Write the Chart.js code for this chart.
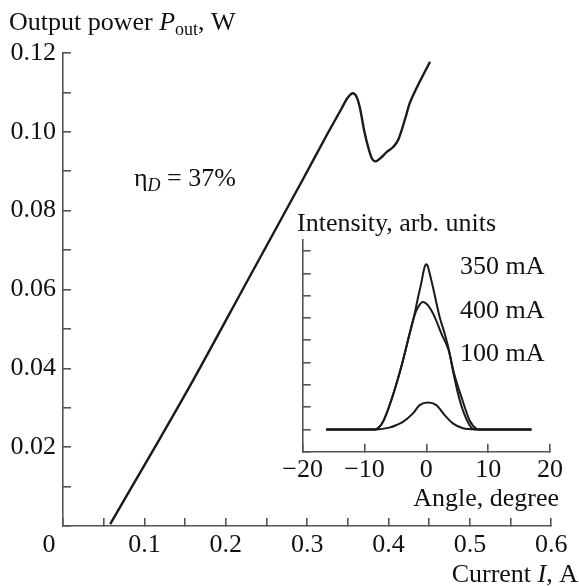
<!DOCTYPE html>
<html><head><meta charset="utf-8">
<script src="https://cdn.jsdelivr.net/npm/chart.js@4/dist/chart.umd.min.js"></script>
<style>
html,body{margin:0;padding:0;background:#fff;}
#wrap{position:relative;width:579px;height:586px;overflow:hidden;background:#fff;}
#main{position:absolute;left:0;top:0;}
#inset{position:absolute;left:250px;top:195px;}
</style></head><body>
<div id="wrap"><canvas id="main" width="579" height="586"></canvas><canvas id="inset" width="329" height="320"></canvas></div>
<script>
// ---- Main plot: output power vs current ----
const currentA = [0.058, 0.113, 0.160, 0.230, 0.2947, 0.325, 0.342, 0.350, 0.356, 0.361, 0.365, 0.370, 0.376, 0.380, 0.384, 0.390, 0.398, 0.406, 0.412, 0.420, 0.426, 0.431, 0.451];
const powerW   = [0.0005, 0.020, 0.037, 0.0635, 0.0879, 0.0995, 0.1058, 0.1087, 0.1098, 0.1088, 0.1060, 0.1004, 0.0954, 0.0931, 0.0925, 0.0933, 0.0949, 0.0962, 0.0980, 0.1030, 0.1072, 0.1096, 0.1178];
const mainXLabels = ['0', '0.1', '0.2', '0.3', '0.4', '0.5', '0.6'];
const mainYLabels = ['0', '0.02', '0.04', '0.06', '0.08', '0.10', '0.12'];

// ---- Inset: far-field intensity vs angle ----
const angle350 = [-16.2, -8.3, -7.8, -7.0, -5.66, -4.05, -2.7, -2.0, -1.4, -0.8, -0.45, -0.2, 0, 0.2, 0.45, 0.97, 2.15, 2.96, 3.66, 4.4, 5.39, 6.5, 7.55, 8.2, 17];
const int350   = [1, 1.0, 1.06, 1.35, 2.32, 3.81, 5.3, 6.05, 6.85, 7.6, 8.1, 8.35, 8.41, 8.35, 8.1, 7.5, 6.05, 5.3, 4.55, 3.5, 2.32, 1.45, 1.02, 1.0, 1];
const angle400 = [-16.2, -8.3, -7.8, -7.0, -5.66, -4.05, -2.7, -2.0, -1.3, -0.55, 0.3, 1.34, 2.43, 3.6, 4.5, 5.83, 7.0, 8.1, 8.6, 17];
const int400   = [1, 1.0, 1.06, 1.35, 2.32, 3.81, 5.3, 6.05, 6.5, 6.72, 6.55, 6.05, 5.3, 4.55, 3.5, 2.32, 1.4, 1.03, 1.0, 1];
const angle100 = [-16.2, -8.0, -6.0, -4.8, -3.78, -2.16, -1.08, 0.27, 1.62, 2.96, 4.3, 5.9, 8.0, 17];
const int100   = [1, 1.0, 1.08, 1.2, 1.34, 1.72, 2.09, 2.21, 2.09, 1.64, 1.27, 1.05, 1.0, 1];
const insetXLabels = ['\u221220', '\u221210', '0', '10', '20'];
const insetSeriesNames = ['350 mA', '400 mA', '100 mA'];

const FONT = '"Liberation Serif","Times New Roman",serif';
const AX = '#555';
const INK = '#111';
const FS = 26;

function pts(xs, ys) { return xs.map((x, i) => ({x: x, y: ys[i]})); }
function drawRuns(ctx, x, y, parts, align) {
  let total = 0;
  for (const p of parts) { ctx.font = p.f; total += ctx.measureText(p.t).width; }
  let cx = align === 'right' ? x - total : x;
  ctx.textAlign = 'left';
  ctx.textBaseline = 'alphabetic';
  for (const p of parts) {
    ctx.font = p.f;
    ctx.fillText(p.t, cx, y + (p.dy || 0));
    cx += ctx.measureText(p.t).width;
  }
}
const FN = FS + 'px ' + FONT, FNi = 'italic ' + FS + 'px ' + FONT, FSub = '18px ' + FONT, FSubi = 'italic 18px ' + FONT;

const mainText = {
  id: 'mainText',
  afterDraw(chart) {
    const ctx = chart.ctx, xs = chart.scales.x, ys = chart.scales.y;
    ctx.save();
    ctx.fillStyle = INK;
    drawRuns(ctx, 9, 30, [{t: 'Output power ', f: FN}, {t: 'P', f: FNi}, {t: 'out', f: FSub, dy: 5}, {t: ', W', f: FN}]);
    drawRuns(ctx, 134, 186, [{t: '\u03b7', f: FN}, {t: 'D', f: FSubi, dy: 5}, {t: ' = 37%', f: FN}]);
    drawRuns(ctx, 578, 582, [{t: 'Current ', f: FN}, {t: 'I', f: FNi}, {t: ', A', f: FN}], 'right');
    ctx.font = FN; ctx.textAlign = 'center'; ctx.textBaseline = 'middle';
    ctx.fillText(mainXLabels[0], xs.getPixelForValue(0) - 14, ys.getPixelForValue(0) + 19);
    ctx.restore();
  }
};

new Chart(document.getElementById('main'), {
  type: 'line',
  data: { datasets: [{
    data: pts(currentA, powerW), borderColor: '#1a1a1a', borderWidth: 2.4,
    pointRadius: 0, fill: false, cubicInterpolationMode: 'monotone'
  }]},
  options: {
    responsive: false, animation: false, devicePixelRatio: 1,
    layout: { padding: { left: 0, right: 24, top: 53, bottom: 0 } },
    plugins: { legend: { display: false }, tooltip: { enabled: false } },
    scales: {
      x: {
        type: 'linear', min: 0, max: 0.6,
        afterFit(s) { s.height = 60; },
        border: { display: true, color: AX, width: 1.6 },
        grid: { drawOnChartArea: false, drawTicks: true, tickLength: -8, color: AX, lineWidth: 1.6 },
        ticks: {
          stepSize: 0.05, color: INK, font: { family: FONT, size: FS }, padding: 11.5, maxRotation: 0, autoSkip: false,
          callback(v) {
            const k = v * 10;
            if (Math.abs(k - Math.round(k)) > 1e-6 || Math.round(k) === 0) return '';
            return mainXLabels[Math.round(k)];
          }
        }
      },
      y: {
        type: 'linear', min: 0, max: 0.12,
        afterFit(s) { s.width = 63; },
        border: { display: true, color: AX, width: 1.6 },
        grid: { drawOnChartArea: false, drawTicks: true, tickLength: -8, color: AX, lineWidth: 1.6 },
        ticks: {
          stepSize: 0.01, color: INK, font: { family: FONT, size: FS }, padding: 15, autoSkip: false,
          callback(v) {
            const k = v / 0.02;
            if (Math.abs(k - Math.round(k)) > 1e-6 || Math.round(k) === 0) return '';
            return mainYLabels[Math.round(k)];
          }
        }
      }
    }
  },
  plugins: [mainText]
});

const insetText = {
  id: 'insetText',
  afterDraw(chart) {
    const ctx = chart.ctx;
    ctx.save();
    ctx.fillStyle = INK;
    drawRuns(ctx, 47, 36, [{t: 'Intensity, arb. units', f: FN}]);
    drawRuns(ctx, 210, 79, [{t: insetSeriesNames[0], f: FN}]);
    drawRuns(ctx, 210, 123, [{t: insetSeriesNames[1], f: FN}]);
    drawRuns(ctx, 210, 166, [{t: insetSeriesNames[2], f: FN}]);
    drawRuns(ctx, 309, 311, [{t: 'Angle, degree', f: FN}], 'right');
    ctx.restore();
  }
};

const insetStyle = { borderColor: '#1a1a1a', borderWidth: 2, pointRadius: 0, fill: false, cubicInterpolationMode: 'monotone' };
new Chart(document.getElementById('inset'), {
  type: 'line',
  data: { datasets: [
    Object.assign({ label: insetSeriesNames[0], data: pts(angle350, int350) }, insetStyle),
    Object.assign({ label: insetSeriesNames[1], data: pts(angle400, int400) }, insetStyle),
    Object.assign({ label: insetSeriesNames[2], data: pts(angle100, int100) }, insetStyle)
  ]},
  options: {
    responsive: false, animation: false, devicePixelRatio: 1,
    layout: { padding: { left: 0, right: 29, top: 45, bottom: 0 } },
    plugins: { legend: { display: false }, tooltip: { enabled: false } },
    scales: {
      x: {
        type: 'linear', min: -20, max: 20,
        afterFit(s) { s.height = 63.3; },
        border: { display: true, color: AX, width: 1.6 },
        grid: { drawOnChartArea: false, drawTicks: true, tickLength: -8, color: AX, lineWidth: 1.6 },
        ticks: {
          stepSize: 10, color: INK, font: { family: FONT, size: FS }, padding: 10.5, maxRotation: 0, autoSkip: false,
          callback(v) { return insetXLabels[Math.round((v + 20) / 10)]; }
        }
      },
      y: {
        type: 'linear', min: 0, max: 9.5,
        afterFit(s) { s.width = 52.7; },
        border: { display: true, color: AX, width: 1.6 },
        grid: { drawOnChartArea: false, drawTicks: true, tickLength: -8, color: AX, lineWidth: 1.6 },
        ticks: { stepSize: 1, includeBounds: false, display: true, autoSkip: false, callback() { return ''; } }
      }
    }
  },
  plugins: [insetText]
});
</script>
</body></html>
